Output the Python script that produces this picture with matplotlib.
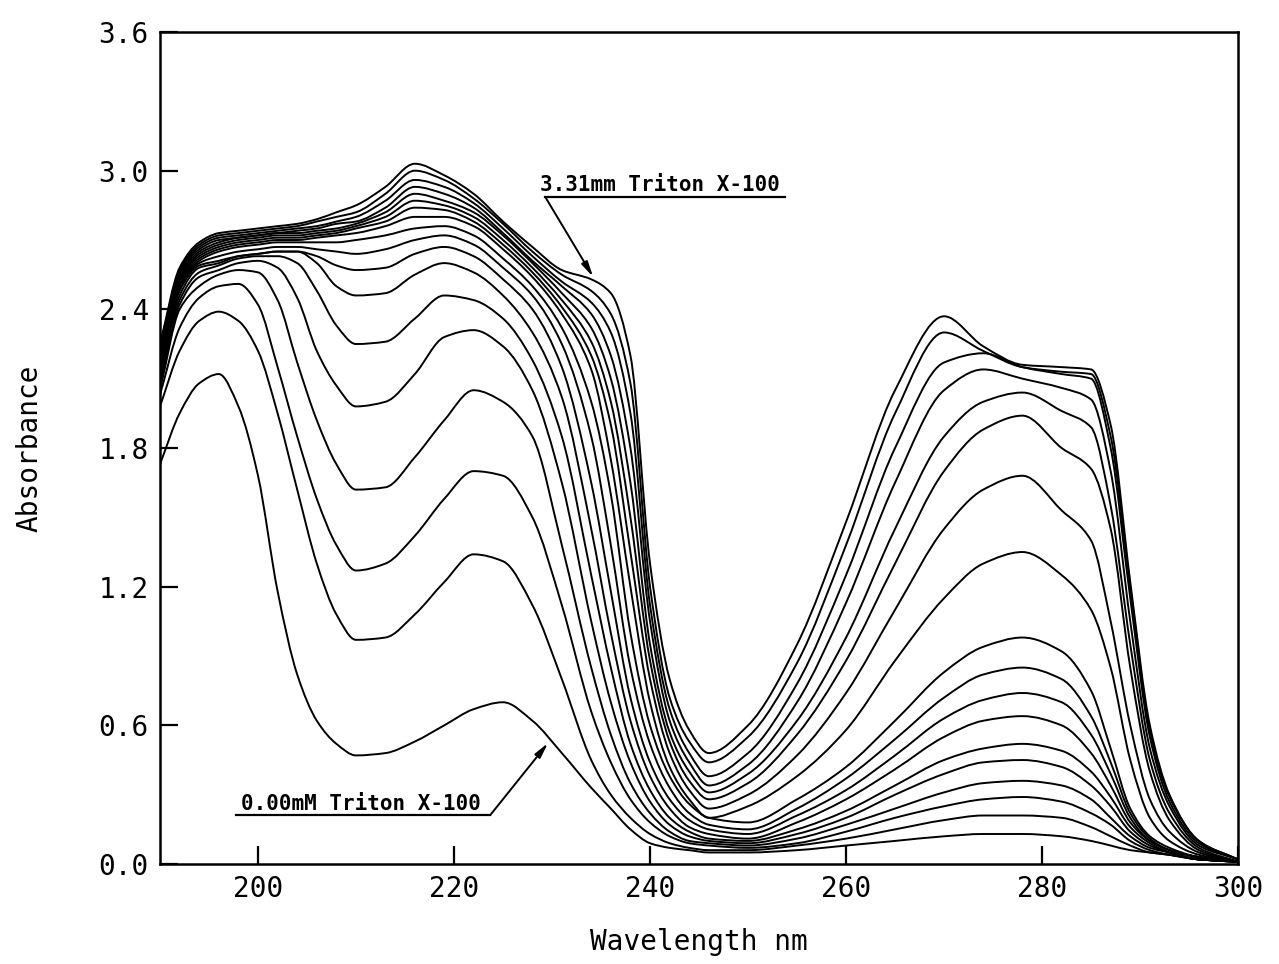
import matplotlib
matplotlib.use("Agg")
import matplotlib.pyplot as plt
from matplotlib.path import Path
from matplotlib.patches import PathPatch
import numpy as np

# Wavelength grid (nm) at which each spectrum was read
wavelength = [190, 192, 194, 196, 198, 200, 202, 204, 206, 208, 210, 213, 216, 219, 222,
              225, 228, 231, 234, 236, 238, 240, 242, 244, 246, 250, 255, 260, 265, 270,
              274, 278, 282, 285, 287, 289, 291, 293, 296, 300]

# Absorbance spectra, from 0.00 mM up to 3.31 mM Triton X-100
s00 = [1.73, 1.95, 2.08, 2.12, 1.98, 1.68, 1.18, 0.82, 0.62, 0.52, 0.47, 0.48, 0.53, 0.60, 0.67,
       0.70, 0.62, 0.48, 0.33, 0.24, 0.15, 0.09, 0.07, 0.06, 0.05, 0.05, 0.06, 0.08, 0.10, 0.12,
       0.13, 0.13, 0.12, 0.10, 0.08, 0.06, 0.05, 0.04, 0.02, 0.01]
s01 = [1.98, 2.22, 2.35, 2.39, 2.35, 2.22, 1.95, 1.62, 1.30, 1.08, 0.97, 0.98, 1.08, 1.22, 1.34,
       1.31, 1.12, 0.80, 0.45, 0.30, 0.20, 0.13, 0.09, 0.07, 0.06, 0.06, 0.08, 0.11, 0.15, 0.19,
       0.21, 0.21, 0.20, 0.16, 0.12, 0.08, 0.05, 0.04, 0.02, 0.01]
s02 = [2.03, 2.32, 2.45, 2.50, 2.51, 2.42, 2.15, 1.85, 1.58, 1.38, 1.27, 1.30, 1.42, 1.58, 1.70,
       1.68, 1.50, 1.12, 0.66, 0.44, 0.28, 0.18, 0.12, 0.09, 0.08, 0.07, 0.09, 0.14, 0.20, 0.25,
       0.28, 0.29, 0.27, 0.22, 0.17, 0.10, 0.06, 0.04, 0.02, 0.01]
s03 = [2.05, 2.40, 2.50, 2.55, 2.57, 2.56, 2.44, 2.17, 1.92, 1.73, 1.62, 1.63, 1.76, 1.92, 2.05,
       2.00, 1.85, 1.38, 0.85, 0.56, 0.35, 0.22, 0.14, 0.10, 0.09, 0.08, 0.11, 0.17, 0.24, 0.31,
       0.35, 0.36, 0.34, 0.28, 0.20, 0.12, 0.07, 0.05, 0.02, 0.01]
s04 = [2.07, 2.42, 2.54, 2.57, 2.60, 2.61, 2.58, 2.45, 2.22, 2.07, 1.98, 2.00, 2.12, 2.28, 2.31,
       2.24, 2.05, 1.65, 1.05, 0.70, 0.44, 0.27, 0.17, 0.12, 0.10, 0.09, 0.13, 0.20, 0.30, 0.39,
       0.44, 0.45, 0.42, 0.34, 0.25, 0.14, 0.08, 0.05, 0.02, 0.01]
s05 = [2.08, 2.44, 2.56, 2.59, 2.62, 2.63, 2.63, 2.60, 2.48, 2.33, 2.25, 2.26, 2.36, 2.46, 2.44,
       2.36, 2.18, 1.85, 1.25, 0.85, 0.52, 0.32, 0.20, 0.14, 0.11, 0.10, 0.15, 0.23, 0.34, 0.45,
       0.50, 0.52, 0.49, 0.40, 0.29, 0.16, 0.09, 0.05, 0.02, 0.01]
s06 = [2.10, 2.46, 2.58, 2.60, 2.63, 2.64, 2.65, 2.65, 2.60, 2.50, 2.46, 2.47, 2.55, 2.60, 2.56,
       2.46, 2.30, 2.02, 1.45, 1.00, 0.62, 0.38, 0.24, 0.16, 0.13, 0.11, 0.18, 0.28, 0.41, 0.55,
       0.62, 0.64, 0.60, 0.48, 0.34, 0.18, 0.10, 0.06, 0.03, 0.01]
s07 = [2.12, 2.48, 2.59, 2.61, 2.63, 2.64, 2.65, 2.65, 2.63, 2.59, 2.57, 2.58, 2.64, 2.67, 2.63,
       2.53, 2.40, 2.15, 1.65, 1.18, 0.72, 0.44, 0.28, 0.19, 0.15, 0.13, 0.21, 0.32, 0.47, 0.63,
       0.71, 0.74, 0.70, 0.56, 0.39, 0.20, 0.10, 0.06, 0.03, 0.01]
s08 = [2.13, 2.49, 2.60, 2.63, 2.65, 2.66, 2.67, 2.67, 2.66, 2.65, 2.64, 2.66, 2.70, 2.72, 2.68,
       2.58, 2.46, 2.25, 1.85, 1.38, 0.85, 0.52, 0.33, 0.22, 0.17, 0.15, 0.24, 0.37, 0.54, 0.72,
       0.82, 0.85, 0.80, 0.64, 0.44, 0.22, 0.11, 0.06, 0.03, 0.01]
s09 = [2.15, 2.50, 2.61, 2.65, 2.67, 2.68, 2.69, 2.69, 2.69, 2.69, 2.70, 2.72, 2.75, 2.76, 2.72,
       2.62, 2.50, 2.32, 2.00, 1.60, 1.00, 0.60, 0.38, 0.26, 0.20, 0.18, 0.28, 0.42, 0.62, 0.83,
       0.94, 0.98, 0.92, 0.75, 0.50, 0.24, 0.12, 0.07, 0.03, 0.01]
s10 = [2.16, 2.51, 2.62, 2.66, 2.68, 2.69, 2.70, 2.70, 2.71, 2.72, 2.73, 2.76, 2.80, 2.80, 2.76,
       2.66, 2.54, 2.38, 2.14, 1.75, 1.20, 0.70, 0.42, 0.28, 0.20, 0.25, 0.38, 0.58, 0.88, 1.15,
       1.30, 1.35, 1.25, 1.10, 0.85, 0.45, 0.20, 0.10, 0.04, 0.01]
s11 = [2.18, 2.52, 2.63, 2.67, 2.69, 2.70, 2.71, 2.71, 2.72, 2.73, 2.75, 2.78, 2.84, 2.83, 2.78,
       2.68, 2.56, 2.41, 2.20, 1.90, 1.35, 0.80, 0.48, 0.32, 0.24, 0.30, 0.47, 0.74, 1.10, 1.45,
       1.62, 1.68, 1.53, 1.40, 1.05, 0.60, 0.28, 0.14, 0.05, 0.01]
s12 = [2.19, 2.53, 2.64, 2.68, 2.70, 2.71, 2.72, 2.72, 2.73, 2.74, 2.76, 2.80, 2.87, 2.85, 2.80,
       2.70, 2.58, 2.44, 2.26, 2.00, 1.50, 0.88, 0.53, 0.36, 0.28, 0.35, 0.56, 0.88, 1.30, 1.70,
       1.88, 1.94, 1.80, 1.71, 1.45, 0.85, 0.40, 0.19, 0.06, 0.01]
s13 = [2.20, 2.54, 2.65, 2.69, 2.71, 2.72, 2.73, 2.73, 2.74, 2.75, 2.77, 2.82, 2.90, 2.87, 2.82,
       2.72, 2.60, 2.47, 2.32, 2.10, 1.65, 0.95, 0.57, 0.40, 0.31, 0.39, 0.62, 0.98, 1.45, 1.85,
       2.00, 2.04, 1.96, 1.89, 1.55, 0.95, 0.45, 0.22, 0.07, 0.01]
s14 = [2.21, 2.55, 2.66, 2.70, 2.71, 2.72, 2.73, 2.74, 2.75, 2.77, 2.78, 2.84, 2.93, 2.90, 2.84,
       2.73, 2.61, 2.50, 2.38, 2.20, 1.80, 1.05, 0.62, 0.44, 0.34, 0.43, 0.70, 1.13, 1.65, 2.05,
       2.14, 2.10, 2.06, 2.01, 1.70, 1.05, 0.50, 0.25, 0.08, 0.02]
s15 = [2.22, 2.56, 2.67, 2.71, 2.72, 2.73, 2.74, 2.75, 2.76, 2.78, 2.80, 2.87, 2.96, 2.93, 2.86,
       2.75, 2.63, 2.52, 2.43, 2.30, 1.95, 1.12, 0.67, 0.48, 0.38, 0.48, 0.78, 1.25, 1.80, 2.17,
       2.21, 2.15, 2.12, 2.10, 1.80, 1.15, 0.55, 0.27, 0.09, 0.02]
s16 = [2.24, 2.57, 2.68, 2.72, 2.73, 2.74, 2.75, 2.76, 2.78, 2.80, 2.82, 2.90, 3.00, 2.96, 2.88,
       2.77, 2.65, 2.55, 2.48, 2.38, 2.08, 1.20, 0.72, 0.53, 0.44, 0.55, 0.87, 1.38, 1.95, 2.30,
       2.22, 2.15, 2.13, 2.12, 1.85, 1.20, 0.58, 0.29, 0.10, 0.02]
s17 = [2.25, 2.58, 2.69, 2.73, 2.74, 2.75, 2.76, 2.77, 2.79, 2.82, 2.85, 2.93, 3.03, 2.98, 2.90,
       2.78, 2.67, 2.57, 2.53, 2.47, 2.20, 1.30, 0.80, 0.58, 0.48, 0.60, 0.95, 1.48, 2.05, 2.37,
       2.24, 2.16, 2.15, 2.14, 1.90, 1.22, 0.60, 0.30, 0.10, 0.02]

spectra = [s00, s01, s02, s03, s04, s05, s06, s07, s08, s09,
           s10, s11, s12, s13, s14, s15, s16, s17]

x_ticks = [200, 220, 240, 260, 280, 300]
y_ticks = [0.0, 0.6, 1.2, 1.8, 2.4, 3.0, 3.6]

mono = "DejaVu Sans Mono"


def smooth_path(x, y):
    """Bezier path through every (x, y) point, with monotone (Fritsch-Carlson) tangents."""
    x = np.asarray(x, float)
    y = np.asarray(y, float)
    h = np.diff(x)
    d = np.diff(y) / h
    m = np.zeros_like(y)
    m[0], m[-1] = d[0], d[-1]
    for i in range(1, len(y) - 1):
        if d[i - 1] * d[i] > 0:
            w1 = 2 * h[i] + h[i - 1]
            w2 = h[i] + 2 * h[i - 1]
            m[i] = (w1 + w2) / (w1 / d[i - 1] + w2 / d[i])
    verts = [(x[0], y[0])]
    codes = [Path.MOVETO]
    for i in range(len(x) - 1):
        verts += [(x[i] + h[i] / 3, y[i] + m[i] * h[i] / 3),
                  (x[i + 1] - h[i] / 3, y[i + 1] - m[i + 1] * h[i] / 3),
                  (x[i + 1], y[i + 1])]
        codes += [Path.CURVE4] * 3
    return Path(verts, codes)


fig = plt.figure(figsize=(12.79, 9.64), dpi=100)
ax = fig.add_axes([0.1251, 0.1037, 0.8429, 0.8631])

for s in spectra:
    ax.add_patch(PathPatch(smooth_path(wavelength, s), fill=False,
                           edgecolor="black", lw=1.4, joinstyle="round"))

ax.set_xlim(190, 300)
ax.set_ylim(0, 3.6)
ax.set_xticks(x_ticks)
ax.set_xticklabels([str(t) for t in x_ticks])
ax.set_yticks(y_ticks)
ax.set_yticklabels([f"{t:.1f}" for t in y_ticks])
ax.tick_params(direction="in", length=13, width=1.6, labelsize=20, pad=8)
for lab in ax.get_xticklabels() + ax.get_yticklabels():
    lab.set_family(mono)
for sp in ax.spines.values():
    sp.set_linewidth(1.8)

ax.set_xlabel("Wavelength nm", family=mono, fontsize=20, labelpad=18)
ax.set_ylabel("Absorbance", family=mono, fontsize=20)
ax.yaxis.set_label_coords(-0.108, 0.5)

# Label for the highest concentration spectrum
ax.text(228.8, 2.91, "3.31mm Triton X-100", family=mono, fontsize=15,
        fontweight="bold", va="baseline", ha="left")
ax.plot([229.3, 253.8], [2.887, 2.887], color="black", lw=1.6)
ax.annotate("", xy=(234.2, 2.54), xytext=(229.3, 2.887),
            arrowprops=dict(arrowstyle="-|>,head_length=0.9,head_width=0.2",
                            color="black", lw=1.4, shrinkA=0, shrinkB=0))

# Label for the spectrum without surfactant
ax.text(198.3, 0.235, "0.00mM Triton X-100", family=mono, fontsize=15,
        fontweight="bold", va="baseline", ha="left")
ax.plot([197.8, 223.7], [0.212, 0.212], color="black", lw=1.6)
ax.annotate("", xy=(229.6, 0.524), xytext=(223.7, 0.212),
            arrowprops=dict(arrowstyle="-|>,head_length=0.9,head_width=0.2",
                            color="black", lw=1.4, shrinkA=0, shrinkB=0))

fig.savefig("out.png", dpi=100)
